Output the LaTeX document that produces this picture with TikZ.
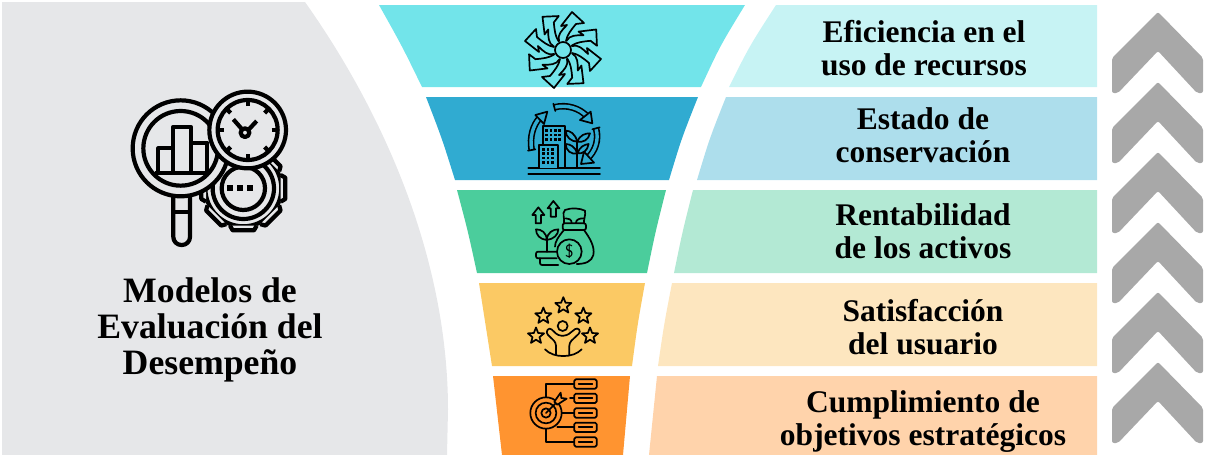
\documentclass[tikz,border=0pt]{standalone}
\usepackage{fontspec}
\setmainfont{Liberation Serif}
\usetikzlibrary{shapes.geometric}

\definecolor{panelgray}{HTML}{E6E7E9}
\definecolor{chevgray}{HTML}{A8A8A8}
\definecolor{funnelA}{HTML}{72E4EA}
\definecolor{funnelB}{HTML}{30ABD1}
\definecolor{funnelC}{HTML}{4BCD9C}
\definecolor{funnelD}{HTML}{FBC964}
\definecolor{funnelE}{HTML}{FF9430}
\definecolor{labelA}{HTML}{C7F3F4}
\definecolor{labelB}{HTML}{ADDEEC}
\definecolor{labelC}{HTML}{B3E9D4}
\definecolor{labelD}{HTML}{FDE6BF}
\definecolor{labelE}{HTML}{FFD3AB}

\tikzset{
    labeltext/.style={font=\fontsize{31.5}{33}\selectfont\bfseries, align=center, inner sep=0pt},
    titletext/.style={font=\fontsize{35.7}{36}\selectfont\bfseries, align=center, inner sep=0pt},
    iconline/.style={draw=black, line width=1.7pt, line join=round, line cap=round},
    bigline/.style={draw=black, line width=4.2pt, line join=round},
    ringarrow/.style={draw=black, line width=1.6pt, double=funnelB, double distance=3.4pt},
    staricon/.style={draw=black, line width=1.7pt, star, star points=5, star point ratio=2.3, minimum size=17pt, inner sep=0pt, line join=round}
}

\begin{document}
\begin{tikzpicture}[x=1pt, y=-1pt]
    \useasboundingbox (0,0) rectangle (1205,455);

    \fill[panelgray] (2,2) -- (305,2) .. controls (385,115) and (448,260) .. (448,410) -- (447,455) -- (2,455) -- cycle;

    \foreach \ya/\yb/\lt/\lb/\rt/\rb/\bl/\br/\bandcol in {
        5/87/379/422/745/701/1.5/3/funnelA,
        97/180/426/455/698/669/1.5/2/funnelB,
        190/273/457/477/666/647/1/1/funnelC,
        283/366/479/492/645/632/0.5/1/funnelD,
        376/455/493/502/630/623/0.5/0.5/funnelE} {
        \fill[\bandcol] (\lb,\yb) .. controls ({(\lb+\lt)/2+\bl},{(\ya+\yb)/2}) .. (\lt,\ya) -- (\rt,\ya) .. controls ({(\rb+\rt)/2-\br},{(\ya+\yb)/2}) .. (\rb,\yb) -- cycle;
    }
    \foreach \ya/\yb/\lt/\lb/\bl/\bandcol in {
        5/87/776/729/3/labelA,
        97/180/726/697/2/labelB,
        190/273/693/674/1/labelC,
        283/366/672/658/1/labelD,
        376/455/657/649/0.5/labelE} {
        \fill[\bandcol] (\lt,\ya) -- (1097,\ya) -- (1097,\yb) -- (\lb,\yb) .. controls ({(\lb+\lt)/2-\bl},{(\ya+\yb)/2}) .. (\lt,\ya) -- cycle;
    }

    \foreach \i in {0,...,5} {
        \fill[chevgray, rounded corners=2pt] (1158,12+70*\i) -- (1203,58+70*\i) -- (1203,93+70*\i) -- (1197,93+70*\i) -- (1158,51+70*\i) -- (1118,93+70*\i) -- (1112,93+70*\i) -- (1112,58+70*\i) -- cycle;
    }

    \node[titletext] (title) at (210,330) {Modelos de\\Evaluación del\\Desempeño};
    \node[labeltext] (label1) at (924,48) {Eficiencia en el\\uso de recursos};
    \node[labeltext] (label2) at (923,135) {Estado de\\conservación};
    \node[labeltext] (label3) at (923,231) {Rentabilidad\\de los activos};
    \node[labeltext] (label4) at (923,327) {Satisfacción\\del usuario};
    \node[labeltext] (label5) at (923,422) {Cumplimiento de\\objetivos estratégicos};

    % main icon
    \begin{scope}[shift={(100,70)}, scale=1/3]
        \draw[bigline] (430,355) circle (114);
        \foreach \a in {0,45,...,315} {
            \draw[bigline, fill=panelgray, rotate around={\a:(430,355)}] (390,467) -- ++(8,14) -- ++(64,0) -- ++(8,-14);
        }
        \draw[bigline] (430,355) circle (92);
        \draw[bigline] (430,355) circle (65);
        \foreach \x in {390,420,450} {
            \fill (\x-9,346) rectangle (\x+9,362);
        }
        \draw[bigline, fill=panelgray, rounded corners=8pt] (220,360) -- (220,525) -- (270,525) -- (270,360);
        \draw[bigline] (220,425) -- (270,425);
        \draw[bigline, fill=panelgray] (242,235) circle (144);
        \draw[bigline] (242,235) circle (112);
        \draw[bigline] (175,305) -- (175,235) -- (220,235) -- (220,170) -- (272,170) -- (272,305);
        \draw[bigline] (220,305) -- (220,235);
        \draw[bigline] (272,218) -- (322,218) -- (322,305);
        \draw[bigline] (165,310) -- (330,310);
        \draw[bigline, fill=panelgray] (443,180) circle (115);
        \draw[bigline] (443,180) circle (90);
        \foreach \a in {0,45,...,315} {
            \draw[bigline] ([shift={(\a:72)}]443,180) -- ([shift={(\a:90)}]443,180);
        }
        \draw[bigline] (428,180) -- (400,148);
        \draw[bigline] (445,180) -- (470,153);
        \draw[bigline] (435,188) circle (13);
    \end{scope}

    % resources icon
    \begin{scope}[shift={(563,50)}]
        \foreach \a in {0,45,...,315} {
            \draw[iconline, fill=funnelA, rotate=\a] (-4,-9) .. controls (-6,-15) and (-1,-20) .. (4,-25) -- (-2,-24) -- (9,-38) -- (21,-27) -- (13,-26) .. controls (8,-20) and (4,-15) .. (3,-9);
        }
        \draw[iconline, fill=funnelA] (0,0) circle (8);
    \end{scope}

    % building icon
    \begin{scope}[shift={(500,0)}, scale=1/3]
        \draw[iconline] (85,503) -- (300,503);
        \draw[iconline] (85,523) -- (300,523);
        \draw[iconline] (128,435) -- (128,378) -- (195,378) -- (195,503);
        \draw[iconline, fill=funnelB] (118,503) -- (118,435) -- (175,435) -- (175,503);
        \foreach \x in {136,149,162,175} {
            \foreach \y in {388,401,414} {
                \fill (\x,\y) rectangle ++(8,8);
            }
        }
        \foreach \x in {127,140,153} {
            \foreach \y in {444,457,470,483} {
                \fill (\x,\y) rectangle ++(8,8);
            }
        }
        \draw[iconline] (232,420) -- (232,503);
        \draw[iconline] (232,425) .. controls (225,400) and (210,392) .. (197,392) .. controls (197,412) and (215,425) .. (232,425);
        \draw[iconline] (232,425) .. controls (240,405) and (255,400) .. (270,400) .. controls (265,420) and (250,428) .. (232,425);
        \draw[iconline] (232,460) .. controls (225,440) and (210,432) .. (197,432) .. controls (197,452) and (215,465) .. (232,460);
        \draw[iconline] (232,460) .. controls (240,440) and (252,434) .. (266,432) .. controls (262,452) and (250,462) .. (232,460);
        \draw[ringarrow] (163,322) .. controls (200,312) and (240,325) .. (262,350);
        \draw[iconline] (160,311) -- (166,333);
        \draw[iconline, fill=funnelB] (277,370) -- (240,360) -- (272,335) -- cycle;
        \draw[ringarrow] (95,450) .. controls (88,410) and (100,375) .. (118,355);
        \draw[iconline] (84,452) -- (106,448);
        \draw[iconline, fill=funnelB] (142,335) -- (106,345) -- (132,372) -- cycle;
        \draw[ringarrow] (288,385) .. controls (298,420) and (285,455) .. (262,475);
        \draw[iconline] (277,388) -- (299,382);
        \draw[iconline, fill=funnelB] (243,492) -- (252,455) -- (282,488) -- cycle;
    \end{scope}

    % money icon
    \begin{scope}[shift={(500,190)}, scale=1/3]
        \draw[iconline] (115,52) -- (133,75) -- (123,75) -- (123,100) -- (107,100) -- (107,75) -- (97,75) -- cycle;
        \draw[iconline] (160,33) -- (178,55) -- (168,55) -- (168,80) -- (152,80) -- (152,55) -- (143,55) -- cycle;
        \draw[iconline] (140,150) -- (140,185);
        \draw[iconline] (140,150) .. controls (120,148) and (108,135) .. (108,118) .. controls (125,118) and (140,128) .. (140,150);
        \draw[iconline] (140,150) .. controls (160,148) and (175,135) .. (175,118) .. controls (158,118) and (142,128) .. (140,150);
        \draw[iconline, rounded corners=2pt] (170,185) -- (108,185) -- (108,205) -- (170,205);
        \draw[iconline, rounded corners=2pt] (120,205) -- (120,225) -- (175,225);
        \draw[iconline, rounded corners=2pt] (188,100) rectangle (258,120);
        \draw[iconline] (192,100) .. controls (195,85) and (185,70) .. (195,60) .. controls (215,52) and (240,55) .. (255,62) .. controls (258,75) and (250,90) .. (252,100);
        \draw[iconline] (215,98) .. controls (215,88) and (205,85) .. (197,85);
        \draw[iconline] (228,98) .. controls (228,88) and (240,85) .. (250,85);
        \draw[iconline] (192,120) .. controls (175,140) and (165,155) .. (165,170);
        \draw[iconline] (252,120) .. controls (270,145) and (285,170) .. (280,195) .. controls (275,215) and (255,222) .. (230,222);
        \draw[iconline, fill=funnelC] (208,185) circle (37);
        \node[font=\fontsize{18}{18}\selectfont\sffamily, inner sep=0pt] (dollar) at (208,185) {\$};
    \end{scope}

    % people icon
    \begin{scope}[shift={(500,190)}, scale=1/3]
        \node[staricon] (star1) at (190,347) {};
        \node[staricon] (star2) at (130,378) {};
        \node[staricon] (star3) at (250,378) {};
        \node[staricon] (star4) at (108,438) {};
        \node[staricon] (star5) at (270,438) {};
        \draw[iconline] (188,408) circle (15);
        \draw[iconline, rounded corners=3pt] (168,495) -- (168,458) -- (137,428) -- (148,412) -- (175,437) -- (200,437) -- (232,412) -- (243,425) -- (208,458) -- (208,495);
        \draw[iconline] (135,478) .. controls (160,505) and (220,505) .. (245,478);
    \end{scope}

    % target icon
    \begin{scope}[shift={(440,260)}, scale=1/3]
        \draw[iconline] (318,420) -- (318,372) -- (403,372);
        \draw[iconline] (318,500) -- (318,546) -- (403,546);
        \draw[iconline] (390,415) -- (403,415);
        \draw[iconline] (360,459) -- (403,459);
        \draw[iconline] (352,502) -- (403,502);
        \foreach \y in {372,415,459,502,546} {
            \draw[iconline, fill=funnelE, rounded corners=1.5pt] (403,\y-14) rectangle (470,\y+14);
            \draw[iconline] (416,\y) -- (457,\y);
        }
        \draw[iconline, fill=funnelE] (318,459) circle (47);
        \draw[iconline] (318,459) circle (31);
        \draw[iconline] (318,459) circle (14);
        \draw[iconline] (318,459) -- (358,419);
        \draw[iconline, fill=funnelE] (343,425) -- (362,398) -- (364,414) -- (380,416) -- (352,434) -- cycle;
    \end{scope}
\end{tikzpicture}
\end{document}
